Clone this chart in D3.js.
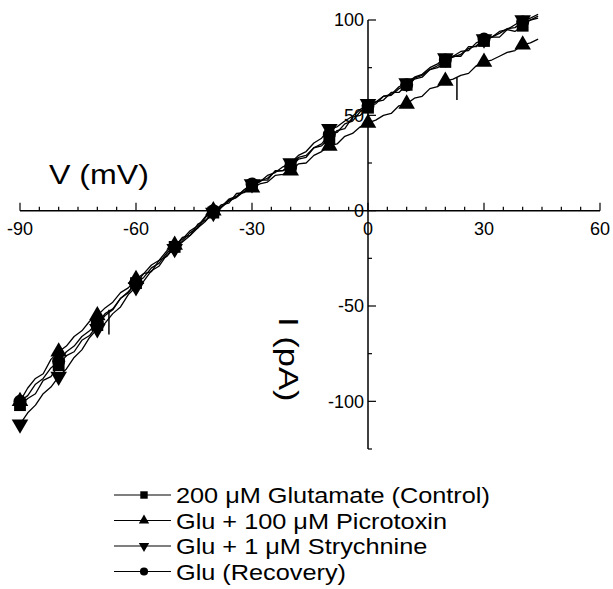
<!DOCTYPE html>
<html>
<head>
  <meta charset="UTF-8">
  <title>I-V curves</title>
  <script src="https://d3js.org/d3.v7.min.js"></script>
  <style>
    body {
      margin: 0;
      padding: 0;
      background-color: #ffffff;
    }
    text {
      font-family: 'Liberation Sans', Arial, sans-serif;
      fill: #000;
    }
    .tick-label {
      font-size: 18px;
    }
  </style>
</head>
<body>
  <svg id="chart"></svg>
  <script>
    const W = 613;
    const H = 589;

    // membrane voltage (mV), shared by all traces
    const voltage = [-90, -88, -86, -84, -82, -80, -78, -76, -74, -72,
                     -70, -68, -66, -64, -62, -60, -58, -56, -54, -52,
                     -50, -48, -46, -44, -42, -40, -38, -36, -34, -32,
                     -30, -28, -26, -24, -22, -20, -18, -16, -14, -12,
                     -10, -8, -6, -4, -2, 0, 2, 4, 6, 8,
                     10, 12, 14, 16, 18, 20, 22, 24, 26, 28,
                     30, 32, 34, 36, 38, 40, 42, 44];

    // current (pA) for each condition
    const control = [-102, -98.5, -96, -89, -87, -81, -76, -74, -68, -65.5,
                     -60, -55, -52, -46, -43, -38, -33, -32, -26, -24,
                     -19, -14, -13, -7, -5, -1, 3, 4, 9, 9.5,
                     13, 16, 16, 21, 21, 24, 28, 29, 33, 34,
                     38, 42, 43, 49, 50, 54, 57, 58, 62, 62,
                     66, 69, 70, 74, 75, 78, 81, 81, 86, 86,
                     89, 91, 91, 95, 94, 97, 100, 101];
    const picrotoxin = [-100, -93, -88, -85.5, -78, -74, -71, -66, -63, -58,
                        -55, -51, -48, -43, -40.5, -36, -33, -28.5, -26, -21,
                        -18, -15, -10.5, -8, -3, 0, 2, 5.5, 7, 10,
                        12, 14, 15, 18.5, 19, 21, 24.5, 25, 29, 31,
                        34, 35, 39, 40.5, 44, 46, 47.5, 50, 51, 55,
                        56, 59, 60, 64, 65, 68, 69, 71, 72, 76,
                        78, 79, 81, 83, 84, 87, 88, 90];
    const strychnine = [-112, -106, -102, -96, -92.5, -87, -83, -77, -73, -66.5,
                        -62, -59, -54, -50.5, -44, -40, -37, -31.5, -29, -23,
                        -20, -16.5, -13, -9, -5.5, -1, 1.5, 5, 7, 11,
                        14, 15, 18.5, 20, 23, 25, 29, 31, 35.5, 38,
                        43, 44, 47, 49.5, 53, 56, 57, 60, 61, 65,
                        67, 70, 71.5, 75, 77, 80, 81, 83.5, 84, 88,
                        90, 91, 94, 95, 97.5, 100, 101, 103];
    const recovery = [-100, -97, -91, -88, -82.5, -79, -74, -71, -66, -63,
                      -59, -54, -51.5, -46, -42.5, -38, -35, -30, -27.5, -22,
                      -19, -16, -11.5, -9, -3.5, 0, 2, 6, 7.5, 11,
                      14, 15.5, 17, 20.5, 21, 23, 27, 28, 33, 35,
                      40, 41, 45.5, 47, 52, 55, 56, 60, 60.5, 64,
                      66, 69.5, 71, 74, 76, 79, 80.5, 82, 85, 86.5,
                      90, 91, 93, 95.5, 96, 99, 100, 102];

    // brief artifacts in the picrotoxin trace: [mV, pA start, pA end]
    const picroArtifacts = [[23, 70, 58], [-67, -52, -65]];

    const seriesNames = ["200 \u03BCM Glutamate (Control)", "Glu + 100 \u03BCM Picrotoxin",
                         "Glu + 1 \u03BCM Strychnine", "Glu (Recovery)"];
    const seriesData = [control, picrotoxin, strychnine, recovery];
    const seriesSymbols = ["square", "triangle", "triangleDown", "circle"];

    const xTicks = [-90, -60, -30, 0, 30, 60];
    const yTicks = [-100, -50, 0, 50, 100];
    const markerStep = 10;

    const x = d3.scaleLinear().domain([-90, 60]).range([20, 600]);
    const y = d3.scaleLinear().domain([-125, 100]).range([449, 20]);

    const svg = d3.select("#chart").attr("width", W).attr("height", H);

    function symbolPath(kind, size) {
      if (kind === "square") return d3.symbol(d3.symbolSquare, size)();
      if (kind === "circle") return d3.symbol(d3.symbolCircle, size * 0.95)();
      return d3.symbol(d3.symbolTriangle, size * 0.85)();
    }
    function symbolRotate(kind) {
      return kind === "triangleDown" ? " rotate(180)" : "";
    }

    // x axis (ticks pointing up)
    const gx = svg.append("g");
    gx.append("line")
      .attr("x1", x(-90)).attr("x2", x(60))
      .attr("y1", y(0)).attr("y2", y(0))
      .attr("stroke", "#000").attr("stroke-width", 1.5);
    gx.selectAll(".minor")
      .data(d3.range(-90, 61, 5))
      .join("line")
      .attr("x1", d => x(d)).attr("x2", d => x(d))
      .attr("y1", y(0))
      .attr("y2", d => y(0) - (d % 30 === 0 ? 8 : 4))
      .attr("stroke", "#000").attr("stroke-width", 1.2);
    gx.selectAll(".tick-label")
      .data(xTicks)
      .join("text")
      .attr("class", "tick-label")
      .attr("x", d => x(d))
      .attr("y", y(0) + 24)
      .attr("text-anchor", "middle")
      .text(d => d);

    // y axis (ticks pointing right)
    const gy = svg.append("g");
    gy.append("line")
      .attr("x1", x(0)).attr("x2", x(0))
      .attr("y1", y(100)).attr("y2", y(-125))
      .attr("stroke", "#000").attr("stroke-width", 1.5);
    gy.selectAll(".minor")
      .data(d3.range(-125, 101, 25))
      .join("line")
      .attr("x1", x(0))
      .attr("x2", d => x(0) + (d % 50 === 0 ? 8 : 4))
      .attr("y1", d => y(d)).attr("y2", d => y(d))
      .attr("stroke", "#000").attr("stroke-width", 1.2);
    gy.selectAll(".tick-label")
      .data(yTicks)
      .join("text")
      .attr("class", "tick-label")
      .attr("x", x(0) - 4)
      .attr("y", d => y(d))
      .attr("dy", "0.36em")
      .attr("text-anchor", "end")
      .text(d => d);

    // axis titles
    svg.append("text")
      .attr("transform", "translate(49,184) scale(1.19,1)")
      .style("font-size", "27px")
      .text("V (mV)");
    svg.append("text")
      .attr("transform", "translate(279,317) rotate(90) scale(1.28,1)")
      .style("font-size", "27px")
      .text("I (pA)");

    // traces
    const line = d3.line()
      .x((d, i) => x(voltage[i]))
      .y(d => y(d));

    svg.selectAll(".trace")
      .data(seriesData)
      .join("path")
      .attr("class", "trace")
      .attr("d", d => line(d))
      .attr("fill", "none")
      .attr("stroke", "#000")
      .attr("stroke-width", 1.3)
      .attr("stroke-linejoin", "round");

    svg.selectAll(".artifact")
      .data(picroArtifacts)
      .join("line")
      .attr("x1", d => x(d[0])).attr("x2", d => x(d[0]))
      .attr("y1", d => y(d[1])).attr("y2", d => y(d[2]))
      .attr("stroke", "#000").attr("stroke-width", 1.5);

    // markers every 10 mV
    seriesData.forEach(function(vals, s) {
      const pts = vals
        .map((v, i) => ({v: voltage[i], i: v}))
        .filter(p => p.v % markerStep === 0 && p.v <= 40);
      svg.selectAll(".mk" + s)
        .data(pts)
        .join("path")
        .attr("class", "mk" + s)
        .attr("transform", p => `translate(${x(p.v)},${y(p.i)})${symbolRotate(seriesSymbols[s])}`)
        .attr("d", symbolPath(seriesSymbols[s], 140))
        .attr("fill", "#000");
    });

    // legend
    const legend = svg.append("g");
    const rowY = d3.scaleLinear().domain([0, 3]).range([495, 571.5]);
    seriesNames.forEach(function(name, s) {
      const g = legend.append("g").attr("transform", `translate(0,${rowY(s)})`);
      g.append("line")
        .attr("x1", 114).attr("x2", 171)
        .attr("stroke", "#000").attr("stroke-width", 1.2);
      g.append("path")
        .attr("transform", `translate(144,0)${symbolRotate(seriesSymbols[s])}`)
        .attr("d", symbolPath(seriesSymbols[s], 55))
        .attr("fill", "#000");
      g.append("text")
        .attr("transform", "translate(176,8) scale(1.15,1)")
        .style("font-size", "22px")
        .text(name);
    });
  </script>
</body>
</html>
